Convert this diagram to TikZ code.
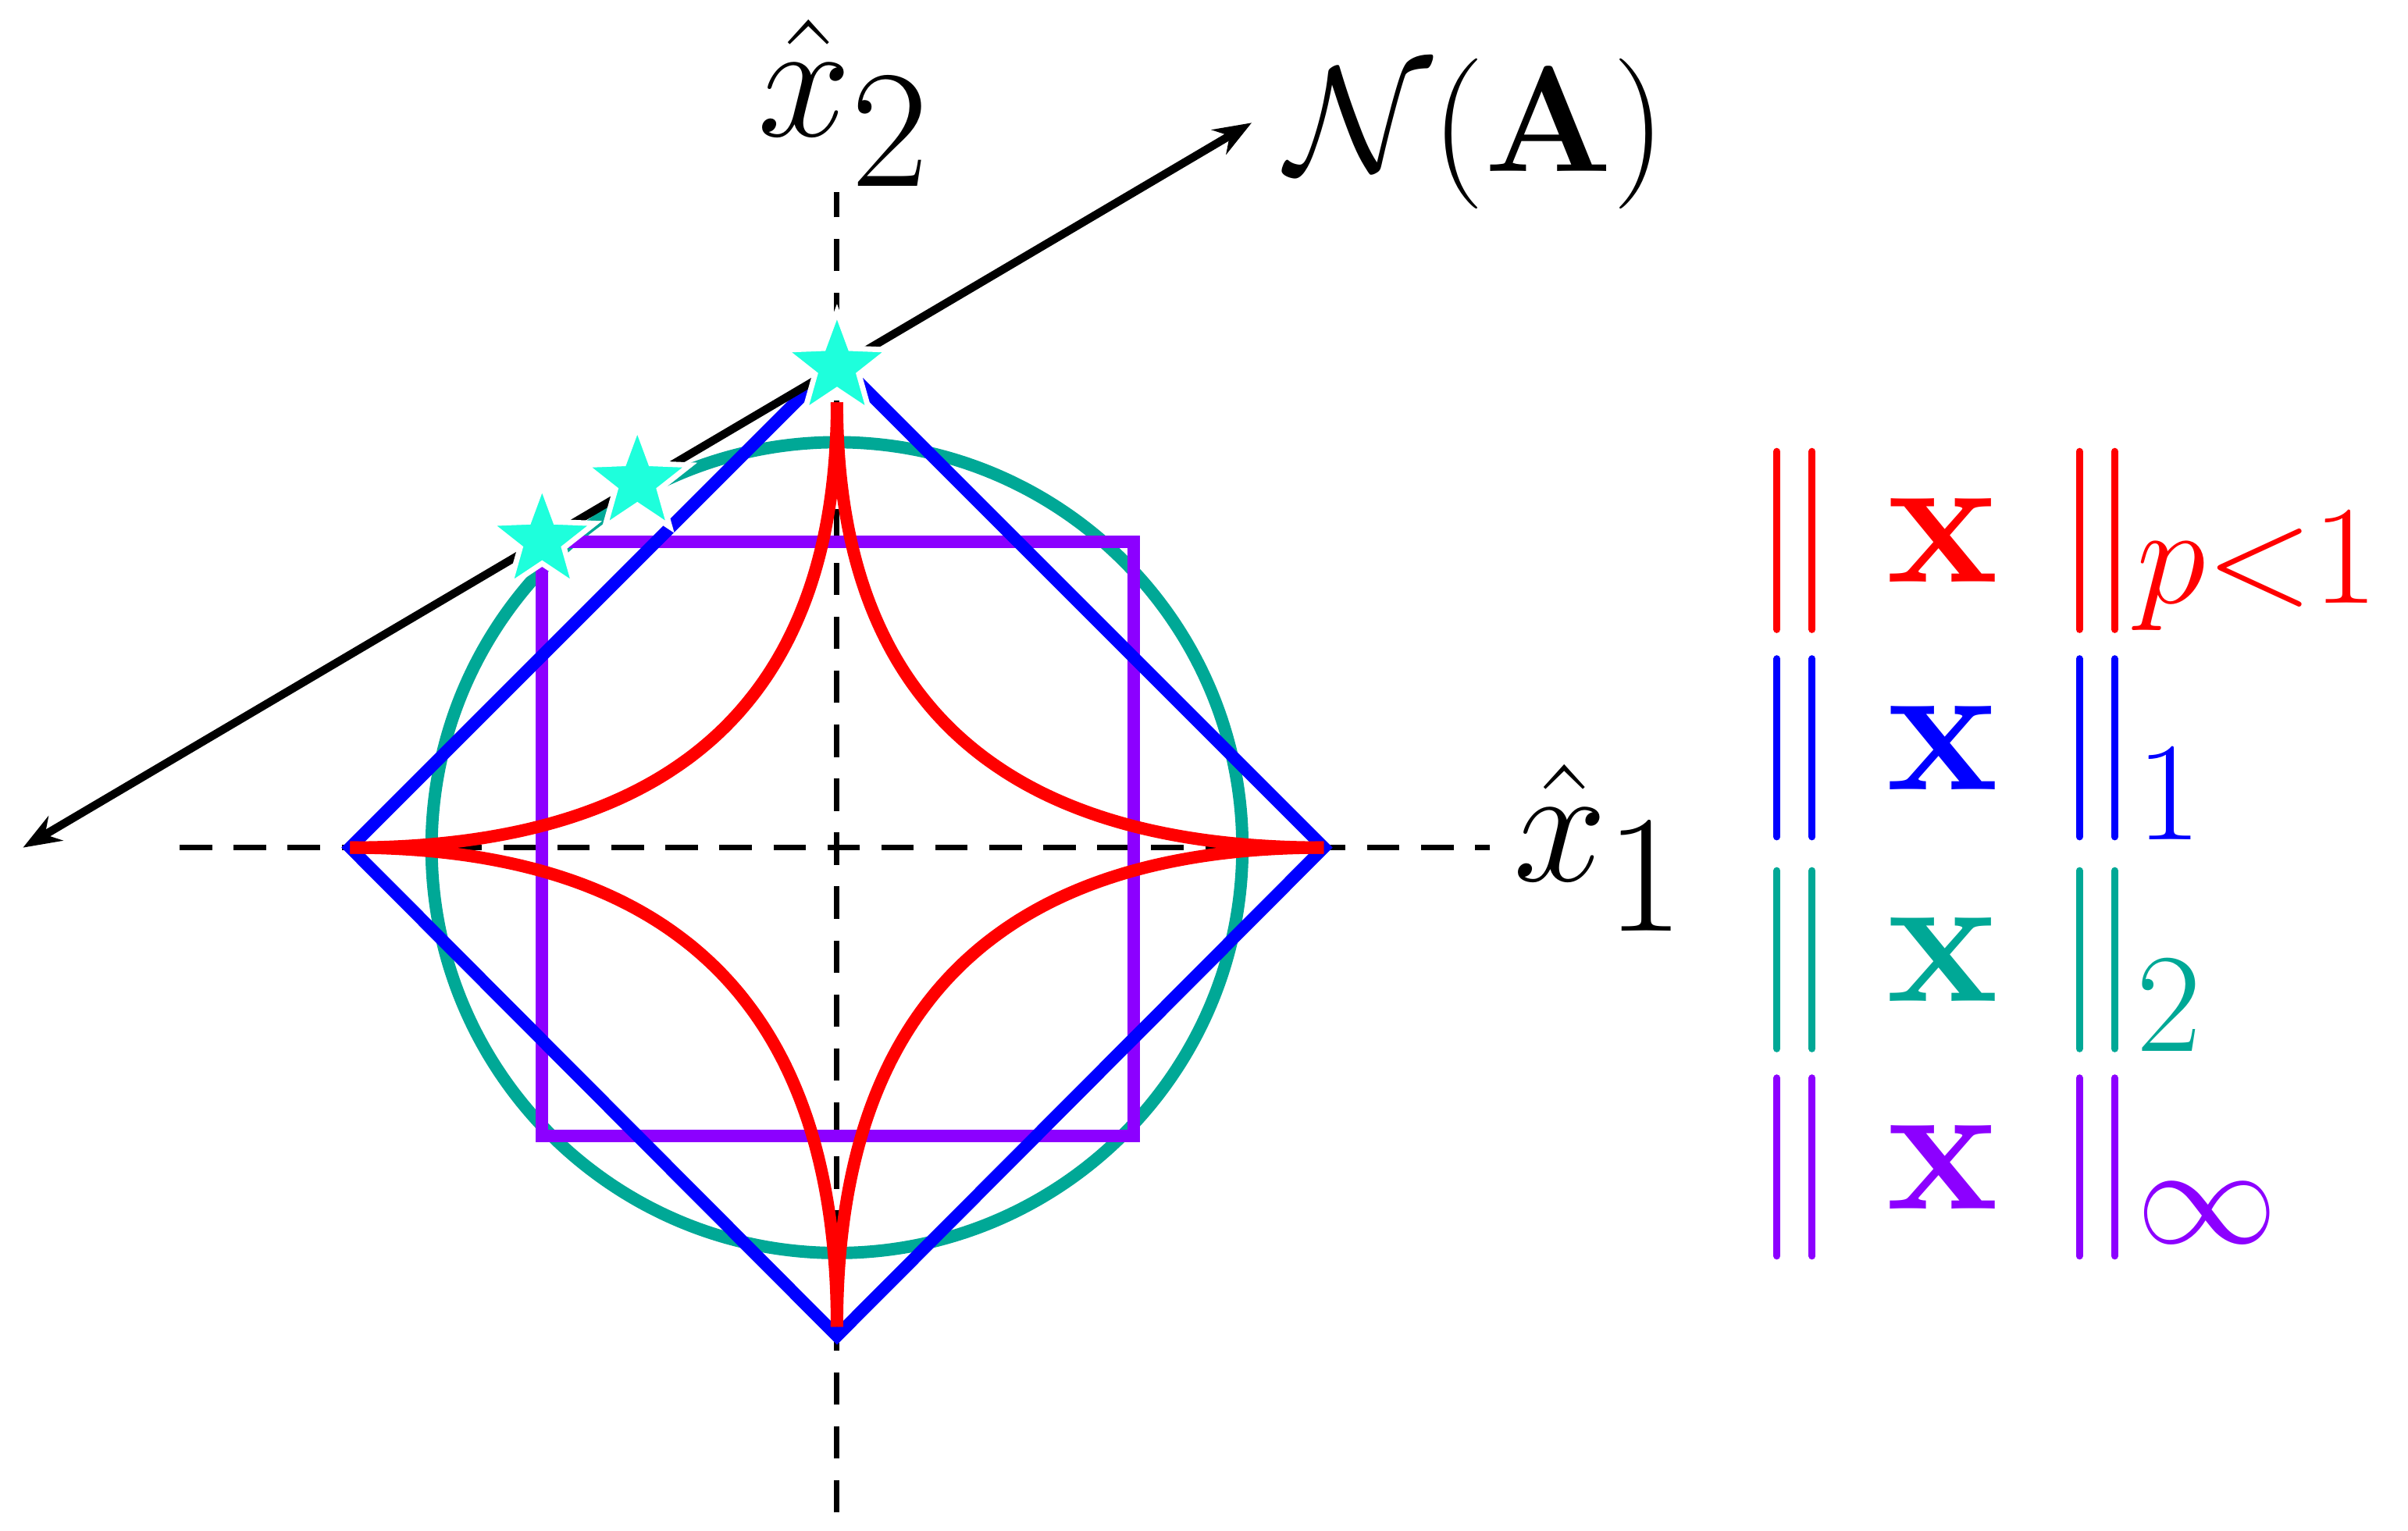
\documentclass[tikz,border=0pt]{standalone}
\usepackage{amsmath}
\usepackage{graphicx}
\usetikzlibrary{positioning, shapes.geometric, arrows.meta}
\definecolor{myred}{RGB}{255,0,0}
\definecolor{myblue}{RGB}{0,0,255}
\definecolor{myteal}{RGB}{0,168,150}
\definecolor{mypurple}{RGB}{140,0,255}
\definecolor{mycyan}{RGB}{30,255,220}

\begin{document}
\begin{tikzpicture}[
	ball/.style={line width=2.3pt},
	axis/.style={line width=1pt, dash pattern=on 6pt off 4pt},
	solpoint/.style={star, star points=5, star point ratio=2.4, minimum size=0.72cm, inner sep=0pt, fill=mycyan, draw=white, line width=1pt},
	bigtext/.style={font=\fontsize{34}{40}\selectfont},
	normbar/.style={line width=1.3pt, line cap=round}
]
\useasboundingbox (0,0) rectangle (15.68,9.97);
\coordinate (c) at (5.45,4.45);

%---------AXES-----------%
\coordinate (xl) at (1.17,4.45);
\coordinate (xr) at (9.70,4.45);
\coordinate (yb) at (5.45,0.12);
\coordinate (yt) at (5.45,8.72);
\draw[axis] (xl) -- (xr);
\draw[axis] (yb) -- (yt);
\node [bigtext] (x1) at (10.42,4.45) {\scalebox{1.25}{$\hat{x}_1$}};
\node [bigtext] (x2) at (5.50,9.30) {\scalebox{1.25}{$\hat{x}_2$}};

%---------BALLS-----------%
\draw[ball, myteal] (c) circle (2.64cm);
\draw[ball, mypurple] (3.53,2.57) rectangle (7.38,6.44);
\draw[ball, myblue] (2.28,4.45) -- (5.45,7.62) -- (8.62,4.45) -- (5.45,1.27) -- cycle;
\foreach \sx/\sy in {1/1,-1/1,-1/-1,1/-1}{
	\draw[ball, myred] plot[domain=0:90, samples=80, smooth]
	  ({5.45+\sx*3.17*cos(\x)^4},{4.45+\sy*(\sy>0 ? 2.9 : 3.12)*sin(\x)^4});
};

%---------NULL SPACE-------%
\coordinate (na) at (0.15,4.45);
\coordinate (nb) at (8.15,9.17);
\draw[{Stealth[length=7pt]}-{Stealth[length=7pt]}, line width=1.5pt] (na) -- (nb);
\node [bigtext, anchor=west] (nul) at (8.25,9.10) {\scalebox{1.12}{$\mathcal{N}(\mathbf{A})$}};

\node [solpoint] (s1) at (5.45,7.58) {};
\node [solpoint] (s2) at (4.15,6.83) {};
\node [solpoint] (s3) at (3.53,6.45) {};

%--------LEGEND-----------%
\foreach \col/\sub/\yy/\dy in {myred/{p{<}1}/6.45/-0.2, myblue/1/5.10/-0.3, myteal/2/3.72/-0.3, mypurple/\infty/2.37/-0.3}{
	\foreach \bx in {11.57,11.80,13.54,13.77}{
		\draw[normbar, \col] (\bx,\yy-0.58) -- (\bx,\yy+0.58);
	};
	\node [bigtext, text=\col] at (12.65,\yy) {\scalebox{1.4}{$\mathbf{x}$}};
	\node [bigtext, text=\col, anchor=west, inner sep=1pt] at (13.87,\yy+\dy) {\scalebox{1.05}{$\sub$}};
};

\end{tikzpicture}
\end{document}
